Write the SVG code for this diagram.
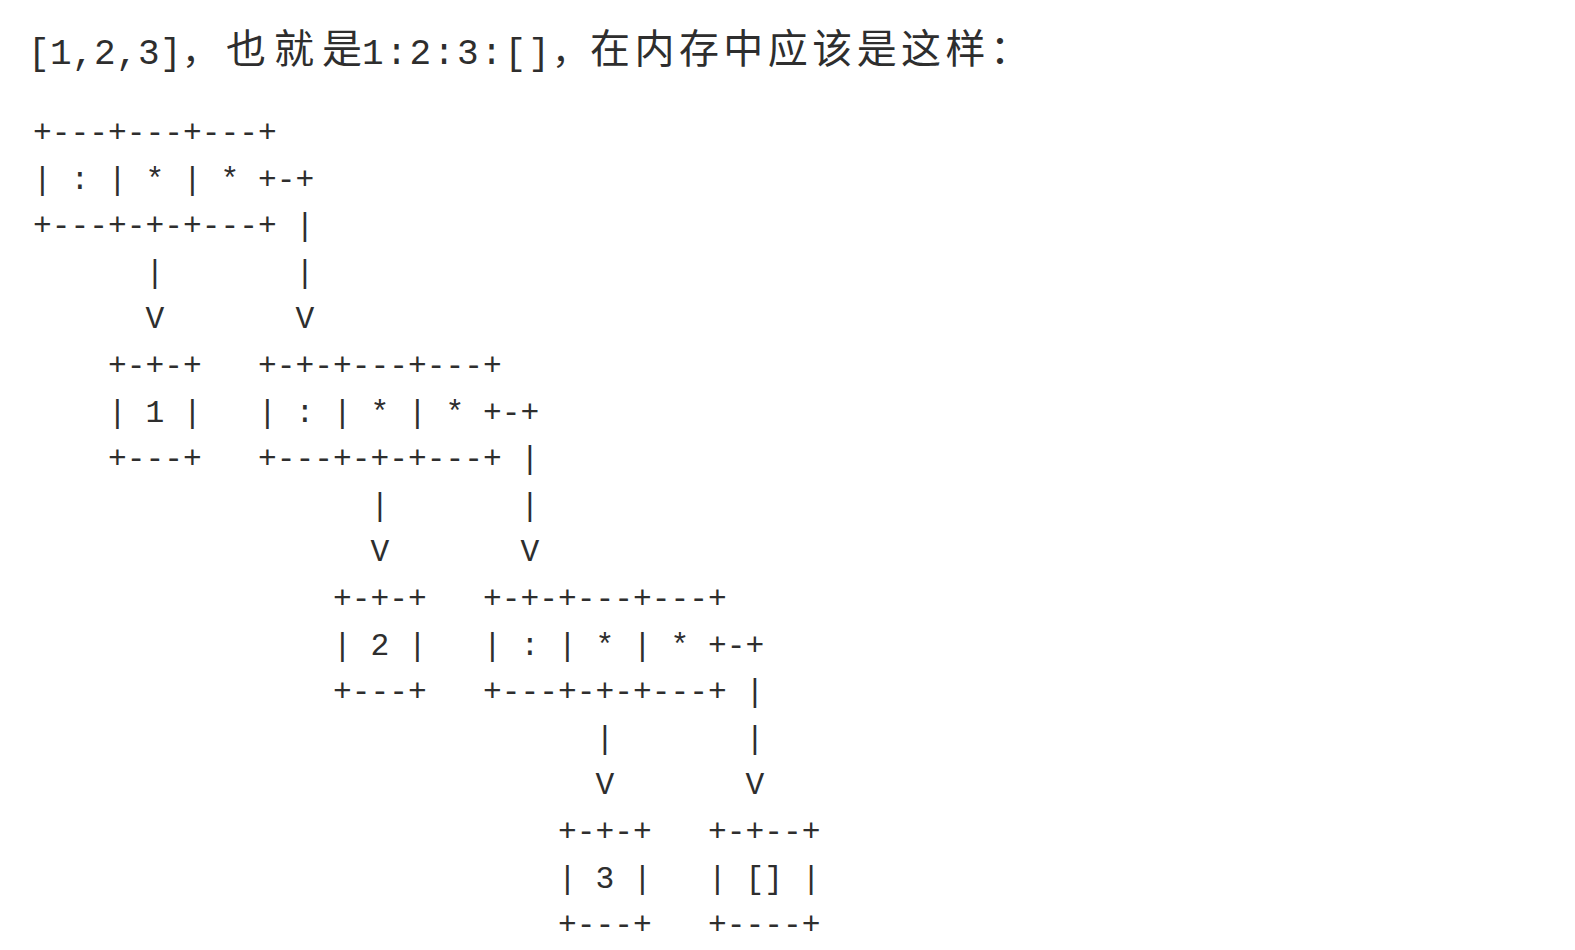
<svg xmlns="http://www.w3.org/2000/svg" width="1575" height="950" viewBox="0 0 1575 950">
<style>
.a{font-family:"Liberation Mono","DejaVu Sans Mono",monospace;font-size:31.25px;fill:#2e2e2e;white-space:pre}
.t{font-family:"Liberation Mono","Noto Sans CJK SC",monospace;font-size:36px;fill:#2e2e2e;white-space:pre}
.c{font-family:"Noto Sans CJK SC","Liberation Sans",sans-serif;font-size:40px;fill:#2e2e2e;white-space:pre}
</style>
<rect width="1575" height="950" fill="#ffffff"/>
<g id="title">
<text class="t" x="28" y="64" textLength="190" lengthAdjust="spacing">[1,2,3]，</text>
<text class="c" x="226" y="63" textLength="136" lengthAdjust="spacing">也就是</text>
<text class="t" x="362" y="64" textLength="226" lengthAdjust="spacing">1:2:3:[]，</text>
<text class="c" x="590" y="63" textLength="440" lengthAdjust="spacing">在内存中应该是这样：</text>
</g>
<g id="cons1">
<text class="a" x="33" y="142">+---+---+---+</text>
<text class="a" x="33" y="188.6">| : | * | * +-+</text>
<text class="a" x="33" y="235.2">+---+-+-+---+</text>
</g>
<g id="val1">
<text class="a" x="108" y="375">+-+-+</text>
<text class="a" x="108" y="421.6">| 1 |</text>
<text class="a" x="108" y="468.2">+---+</text>
</g>
<g id="cons2">
<text class="a" x="258" y="375">+-+-+---+---+</text>
<text class="a" x="258" y="421.6">| : | * | * +-+</text>
<text class="a" x="258" y="468.2">+---+-+-+---+</text>
</g>
<g id="val2">
<text class="a" x="333" y="608">+-+-+</text>
<text class="a" x="333" y="654.6">| 2 |</text>
<text class="a" x="333" y="701.2">+---+</text>
</g>
<g id="cons3">
<text class="a" x="483" y="608">+-+-+---+---+</text>
<text class="a" x="483" y="654.6">| : | * | * +-+</text>
<text class="a" x="483" y="701.2">+---+-+-+---+</text>
</g>
<g id="val3">
<text class="a" x="558" y="841">+-+-+</text>
<text class="a" x="558" y="887.6">| 3 |</text>
<text class="a" x="558" y="934.2">+---+</text>
</g>
<g id="nil">
<text class="a" x="708" y="841">+-+--+</text>
<text class="a" x="708" y="887.6">| [] |</text>
<text class="a" x="708" y="934.2">+----+</text>
</g>
<g id="connectors">
<text class="a" x="295.5" y="235.2">|</text>
<text class="a" x="145.5" y="281.8">|</text>
<text class="a" x="295.5" y="281.8">|</text>
<text class="a" x="145.5" y="328.4">V</text>
<text class="a" x="295.5" y="328.4">V</text>
<text class="a" x="520.5" y="468.2">|</text>
<text class="a" x="370.5" y="514.8">|</text>
<text class="a" x="520.5" y="514.8">|</text>
<text class="a" x="370.5" y="561.4">V</text>
<text class="a" x="520.5" y="561.4">V</text>
<text class="a" x="745.5" y="701.2">|</text>
<text class="a" x="595.5" y="747.8">|</text>
<text class="a" x="745.5" y="747.8">|</text>
<text class="a" x="595.5" y="794.4">V</text>
<text class="a" x="745.5" y="794.4">V</text>
</g>
</svg>
